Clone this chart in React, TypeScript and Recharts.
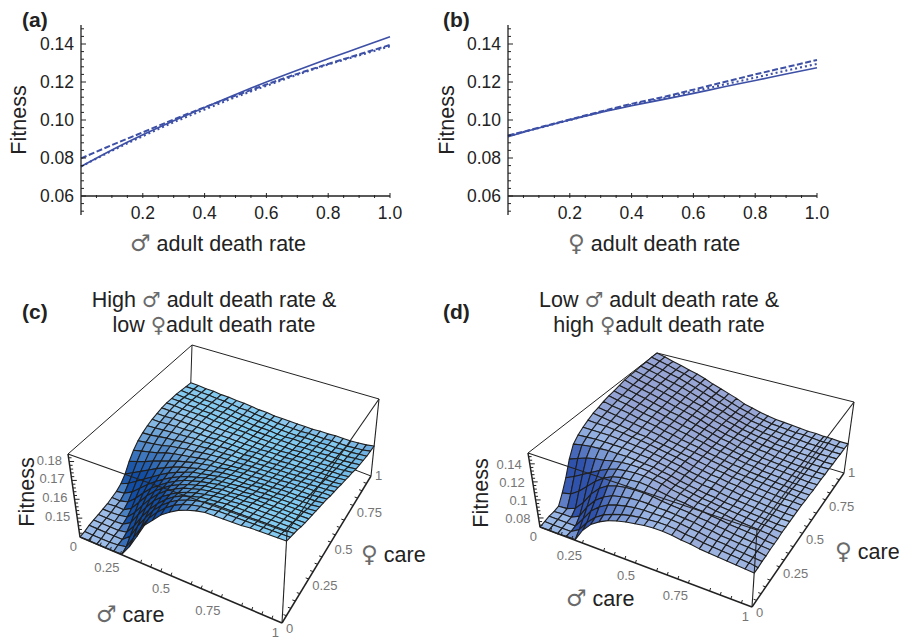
import { LineChart, Line, XAxis, YAxis, ReferenceLine, ScatterChart, Scatter } from "recharts";

// panels (a) and (b): fitness against adult death rate
const deathRate = [0, 0.1, 0.2, 0.3, 0.4, 0.5, 0.6, 0.7, 0.8, 0.9, 1];
const maleSolid = [0.0755, 0.0842, 0.0922, 0.0996, 0.1066, 0.1134, 0.12, 0.1262, 0.1322, 0.138, 0.1438];
const maleDashed = [0.0798, 0.0868, 0.0935, 0.1003, 0.1067, 0.1128, 0.1187, 0.1243, 0.1295, 0.1345, 0.1395];
const maleDotted = [0.0755, 0.0838, 0.0915, 0.0988, 0.1055, 0.112, 0.118, 0.1238, 0.1292, 0.134, 0.1388];
const femaleSolid = [0.0912, 0.0958, 0.1, 0.104, 0.1075, 0.1107, 0.114, 0.1175, 0.1208, 0.1242, 0.1275];
const femaleDashed = [0.0918, 0.096, 0.1003, 0.1045, 0.1085, 0.112, 0.116, 0.12, 0.124, 0.1278, 0.1316];
const femaleDotted = [0.0915, 0.0958, 0.1, 0.1042, 0.108, 0.1113, 0.115, 0.1187, 0.1223, 0.126, 0.1295];

const xTicks = [0.05, 0.1, 0.15, 0.2, 0.25, 0.3, 0.35, 0.4, 0.45, 0.5, 0.55, 0.6, 0.65, 0.7, 0.75, 0.8, 0.85, 0.9, 0.95, 1];
const xLabelled = [0.2, 0.4, 0.6, 0.8, 1];
const yTicks = [
  0.052, 0.056, 0.06, 0.064, 0.068, 0.072, 0.076, 0.08, 0.084, 0.088, 0.092, 0.096, 0.1, 0.104, 0.108, 0.112,
  0.116, 0.12, 0.124, 0.128, 0.132, 0.136, 0.14, 0.144, 0.148,
];
const yLabelled = [0.06, 0.08, 0.1, 0.12, 0.14];

// panels (c) and (d): surface height in % of the fitness box, rows go with female care, columns with male care
const surfaceC = [
  [0, 0, 0, 0, 0, 1, 14, 30, 47, 57, 67, 74, 80, 84, 87, 89, 89, 89, 89, 89, 90, 90, 90, 90, 90],
  [0, 0, 0, 0, 1, 3, 18, 34, 49, 60, 69, 76, 81, 84, 86, 87, 88, 88, 88, 88, 88, 88, 88, 88, 88],
  [1, 1, 1, 1, 1, 9, 25, 39, 52, 62, 70, 76, 80, 83, 85, 86, 86, 86, 86, 86, 86, 86, 86, 86, 86],
  [1, 1, 1, 1, 3, 15, 30, 43, 54, 63, 70, 75, 78, 81, 82, 83, 84, 84, 84, 84, 84, 84, 84, 84, 84],
  [1, 1, 1, 2, 8, 22, 35, 47, 56, 63, 69, 73, 76, 78, 80, 81, 81, 82, 82, 82, 82, 82, 82, 82, 81],
  [1, 1, 2, 4, 14, 27, 39, 49, 57, 63, 68, 71, 74, 76, 77, 78, 79, 79, 80, 80, 80, 80, 80, 79, 79],
  [1, 2, 2, 8, 20, 32, 42, 50, 57, 62, 66, 69, 72, 73, 75, 75, 76, 77, 77, 77, 77, 77, 77, 77, 77],
  [2, 2, 5, 14, 25, 35, 43, 50, 56, 61, 64, 67, 69, 71, 72, 73, 73, 74, 74, 75, 75, 75, 75, 75, 75],
  [3, 5, 11, 20, 29, 37, 44, 50, 55, 59, 62, 65, 67, 68, 69, 70, 71, 71, 72, 72, 72, 72, 72, 72, 73],
  [6, 11, 18, 25, 32, 39, 45, 50, 54, 58, 60, 62, 64, 66, 67, 67, 68, 69, 69, 69, 70, 70, 70, 70, 71],
  [12, 18, 24, 30, 36, 41, 46, 50, 53, 56, 58, 60, 62, 63, 64, 65, 65, 66, 66, 67, 67, 67, 68, 68, 69],
  [22, 26, 30, 35, 39, 43, 47, 50, 53, 55, 57, 58, 60, 61, 62, 62, 63, 63, 64, 64, 65, 65, 65, 66, 67],
  [30, 33, 36, 39, 43, 46, 48, 50, 52, 54, 55, 56, 57, 58, 59, 60, 60, 61, 61, 62, 62, 63, 63, 64, 64],
  [36, 38, 40, 42, 45, 47, 49, 50, 52, 53, 54, 55, 55, 56, 57, 57, 58, 58, 59, 59, 60, 60, 61, 61, 62],
  [40, 41, 43, 45, 46, 48, 49, 50, 51, 52, 52, 53, 53, 54, 54, 55, 55, 56, 56, 57, 57, 58, 58, 59, 60],
  [43, 44, 45, 46, 47, 48, 49, 49, 50, 50, 51, 51, 51, 52, 52, 52, 53, 53, 54, 54, 55, 55, 56, 56, 57],
  [45, 45, 46, 47, 47, 48, 48, 48, 49, 49, 49, 49, 49, 50, 50, 50, 50, 51, 51, 52, 52, 53, 53, 54, 55],
  [46, 46, 47, 47, 47, 47, 47, 47, 47, 47, 47, 47, 47, 47, 48, 48, 48, 49, 49, 49, 50, 50, 51, 51, 52],
  [47, 47, 47, 47, 47, 47, 46, 46, 46, 46, 46, 45, 45, 45, 45, 45, 46, 46, 47, 47, 47, 48, 48, 49, 50],
  [47, 47, 46, 46, 46, 46, 45, 45, 44, 44, 44, 43, 43, 43, 43, 43, 43, 44, 44, 45, 45, 45, 46, 46, 47],
  [46, 46, 45, 45, 44, 44, 43, 43, 42, 42, 41, 41, 41, 41, 41, 41, 41, 42, 42, 42, 43, 43, 43, 44, 45],
  [45, 44, 44, 43, 43, 42, 42, 41, 40, 40, 39, 39, 39, 38, 38, 39, 39, 39, 40, 40, 40, 41, 41, 42, 43],
  [43, 42, 42, 41, 41, 40, 40, 39, 38, 38, 37, 37, 36, 36, 36, 36, 37, 37, 37, 38, 38, 39, 39, 40, 41],
  [41, 41, 40, 40, 39, 39, 38, 37, 37, 36, 35, 35, 34, 34, 34, 34, 35, 35, 35, 36, 36, 36, 37, 38, 40],
  [39, 39, 38, 38, 37, 37, 36, 36, 35, 34, 34, 33, 33, 33, 33, 33, 33, 34, 34, 35, 35, 35, 36, 37, 39],
];
const surfaceD = [
  [0, 0, 0, 1, 1, 18, 30, 38, 44, 48, 51, 53, 55, 56, 56, 55, 53, 52, 50, 49, 48, 47, 46, 45, 44],
  [1, 1, 1, 1, 8, 22, 33, 41, 46, 50, 53, 55, 56, 57, 57, 56, 54, 53, 51, 50, 49, 48, 47, 46, 44],
  [2, 2, 2, 2, 16, 31, 41, 48, 52, 55, 57, 58, 58, 58, 58, 57, 55, 54, 52, 51, 50, 48, 47, 46, 45],
  [2, 3, 3, 9, 26, 39, 48, 54, 57, 59, 60, 60, 59, 59, 58, 57, 56, 54, 53, 51, 50, 49, 48, 47, 45],
  [3, 4, 9, 21, 37, 49, 57, 61, 63, 64, 64, 63, 61, 60, 59, 58, 56, 55, 53, 52, 50, 49, 48, 47, 46],
  [15, 18, 26, 37, 48, 57, 63, 66, 67, 68, 67, 65, 63, 61, 60, 58, 57, 55, 54, 52, 51, 50, 49, 47, 46],
  [30, 36, 43, 50, 57, 63, 67, 69, 70, 70, 69, 67, 64, 62, 60, 58, 57, 55, 54, 52, 51, 50, 49, 48, 46],
  [50, 55, 60, 63, 65, 68, 70, 71, 71, 70, 68, 66, 63, 61, 59, 57, 56, 54, 53, 52, 51, 50, 49, 48, 47],
  [65, 68, 70, 71, 72, 72, 72, 71, 70, 69, 67, 65, 62, 60, 58, 56, 55, 53, 52, 51, 50, 49, 48, 47, 47],
  [72, 73, 74, 74, 74, 74, 73, 72, 71, 69, 67, 65, 63, 60, 58, 57, 55, 53, 52, 51, 50, 49, 48, 47, 47],
  [77, 77, 77, 77, 76, 75, 74, 73, 71, 69, 67, 65, 62, 60, 58, 57, 55, 54, 52, 51, 50, 49, 48, 47, 47],
  [81, 80, 80, 79, 78, 76, 75, 73, 71, 69, 67, 65, 62, 60, 58, 57, 55, 54, 52, 51, 50, 49, 48, 48, 47],
  [85, 83, 81, 79, 77, 75, 74, 72, 70, 68, 66, 64, 62, 60, 58, 57, 55, 54, 52, 51, 50, 49, 48, 48, 47],
  [87, 85, 83, 81, 79, 77, 75, 73, 70, 68, 66, 64, 62, 60, 58, 56, 54, 53, 52, 51, 50, 49, 48, 47, 46],
  [90, 87, 85, 83, 80, 78, 76, 73, 71, 68, 66, 64, 61, 59, 57, 55, 54, 52, 51, 50, 49, 48, 47, 46, 46],
  [92, 89, 87, 84, 81, 79, 76, 74, 71, 69, 66, 64, 61, 59, 57, 55, 53, 52, 50, 49, 48, 47, 46, 46, 45],
  [93, 90, 88, 85, 82, 80, 77, 74, 71, 69, 66, 63, 60, 58, 56, 54, 52, 51, 50, 49, 48, 47, 46, 45, 45],
  [95, 92, 89, 86, 83, 80, 77, 75, 72, 69, 66, 63, 60, 58, 55, 53, 52, 50, 49, 48, 47, 46, 45, 45, 45],
  [97, 93, 90, 87, 84, 81, 78, 75, 72, 69, 65, 62, 59, 57, 55, 53, 51, 50, 48, 47, 46, 45, 45, 44, 44],
  [98, 94, 91, 88, 85, 82, 78, 75, 72, 68, 65, 62, 59, 56, 54, 52, 50, 49, 48, 47, 46, 45, 44, 44, 44],
  [98, 95, 92, 89, 85, 82, 79, 75, 72, 68, 65, 61, 58, 55, 53, 51, 50, 48, 47, 46, 45, 45, 44, 43, 43],
  [99, 96, 93, 89, 86, 83, 79, 75, 71, 67, 64, 60, 57, 54, 52, 50, 49, 47, 46, 45, 45, 44, 43, 43, 43],
  [99, 96, 93, 90, 87, 83, 79, 75, 71, 67, 63, 59, 56, 53, 51, 49, 48, 47, 46, 45, 44, 44, 43, 42, 42],
  [100, 97, 94, 90, 87, 83, 79, 75, 70, 66, 62, 58, 55, 52, 50, 48, 47, 46, 45, 45, 44, 43, 43, 42, 42],
  [100, 97, 93, 90, 86, 83, 79, 74, 70, 66, 62, 57, 54, 51, 49, 47, 46, 45, 44, 43, 43, 42, 42, 41, 41],
];

const careMinorTicks = [0.05, 0.1, 0.15, 0.2, 0.3, 0.35, 0.4, 0.45, 0.55, 0.6, 0.65, 0.7, 0.8, 0.85, 0.9, 0.95];
const careLabels = ["0", "0.25", "0.5", "0.75", "1"];
const fitnessTicksC = [0.142, 0.144, 0.146, 0.148, 0.15, 0.152, 0.154, 0.156, 0.158, 0.16, 0.162, 0.164, 0.166, 0.168, 0.17, 0.172, 0.174, 0.176, 0.178, 0.18, 0.182];
const fitnessLabelsC = ["0.15", "0.16", "0.17", "0.18"];
const fitnessTicksD = [0.072, 0.076, 0.08, 0.084, 0.088, 0.092, 0.096, 0.1, 0.104, 0.108, 0.112, 0.116, 0.12, 0.124, 0.128, 0.132, 0.136, 0.14, 0.144, 0.148];
const fitnessLabelsD = ["0.08", "0.1", "0.12", "0.14"];

const SANS = "'Liberation Sans', Arial, sans-serif";
const SYMBOL = "'DejaVu Sans', sans-serif";
const INK = "#222222";
const BLUE = "#3d50a6";
const GREY = "#757575";

type Pt = [number, number];
// page pixels of the box corners: (male care, female care) = 00, 10, 11, 01
const frameC = {
  base: [[80, 537], [282, 623], [371, 476], [190, 407]] as Pt[],
  top: [[68, 454], [287, 532], [379, 399], [192, 345]] as Pt[],
  zRange: [0.14, 0.184],
};
const frameD = {
  base: [[540, 527], [752, 607], [844, 473], [653, 415]] as Pt[],
  top: [[528, 453], [757, 530], [854, 402], [657, 353]] as Pt[],
  zRange: [0.07, 0.152],
};
const paletteC = { flat: "#92c4ea", front: "#7ccdf5", steep: "#124ea5", low: "#9dbde8", q: 0.33, r: 0, steepOver: 8 };
const paletteD = { flat: "#98a6d5", front: "#a6c0ea", steep: "#2f52ad", low: "#9dbbe8", q: 0, r: 0.33, steepOver: 12 };

type Frame = typeof frameC;
type Palette = typeof paletteC;

const clamp = (v: number) => Math.max(0, Math.min(1, v));
const mix = (a: string, b: string, k: number) => {
  const ch = (c: string, i: number) => parseInt(c.slice(1 + i * 2, 3 + i * 2), 16);
  const out = [0, 1, 2].map((i) => Math.round(ch(a, i) + (ch(b, i) - ch(a, i)) * k));
  return "#" + out.map((n) => n.toString(16).padStart(2, "0")).join("");
};

const project = (fr: Frame, m: number, f: number, pct: number): Pt => {
  const bi = (c: Pt[], k: 0 | 1) =>
    c[0][k] * (1 - m) * (1 - f) + c[1][k] * m * (1 - f) + c[2][k] * m * f + c[3][k] * (1 - m) * f;
  const t = pct / 100;
  return [bi(fr.base, 0) + (bi(fr.top, 0) - bi(fr.base, 0)) * t, bi(fr.base, 1) + (bi(fr.top, 1) - bi(fr.base, 1)) * t];
};

const buildCells = (rows: number[][], fr: Frame, pal: Palette) => {
  const n = rows.length - 1;
  const cells = [];
  for (let j = 0; j < n; j++) {
    for (let i = 0; i < n; i++) {
      const corners: Pt[] = [
        project(fr, i / n, j / n, rows[j][i]),
        project(fr, (i + 1) / n, j / n, rows[j][i + 1]),
        project(fr, (i + 1) / n, (j + 1) / n, rows[j + 1][i + 1]),
        project(fr, i / n, (j + 1) / n, rows[j + 1][i]),
      ];
      const r = (rows[j][i + 1] + rows[j + 1][i + 1] - rows[j][i] - rows[j + 1][i]) / 2;
      const q = (rows[j + 1][i] + rows[j + 1][i + 1] - rows[j][i] - rows[j][i + 1]) / 2;
      const lit = clamp(pal.q * -q + pal.r * (r + 3));
      const avg = (rows[j][i] + rows[j][i + 1] + rows[j + 1][i] + rows[j + 1][i + 1]) / 4;
      const light = avg < 4 ? pal.low : mix(pal.flat, pal.front, lit);
      const steep = clamp(Math.max(0, r) / pal.steepOver + Math.max(0, q) / 30);
      cells.push({
        x: corners.reduce((s, c) => s + c[0], 0) / 4,
        y: corners.reduce((s, c) => s + c[1], 0) / 4,
        corners,
        fill: mix(light, pal.steep, steep),
        depth: j - i,
      });
    }
  }
  return cells.sort((a, b) => b.depth - a.depth);
};

const CellShape = (props: any) => {
  const { cx, cy, payload } = props;
  const pts = payload.corners.map((c: Pt) => `${cx + c[0] - payload.x},${cy + c[1] - payload.y}`).join(" ");
  return <polygon points={pts} fill={payload.fill} stroke="#1f1f1f" strokeWidth={1.1} strokeLinejoin="round" />;
};
const NoDot = () => <g />;
const TickMark = (props: any) => {
  const { cx, cy, payload } = props;
  return <line x1={cx} y1={cy} x2={cx + payload.dx} y2={cy + payload.dy} stroke={INK} strokeWidth={1} />;
};
const TickText = (props: any) => {
  const { cx, cy, payload } = props;
  return (
    <text x={cx + payload.dx} y={cy + payload.dy} textAnchor={payload.anchor} fontSize={13} fontFamily={SANS} fill={GREY}>
      {payload.label}
    </text>
  );
};

const edge = (a: Pt, b: Pt) => [
  { x: a[0], y: a[1] },
  { x: b[0], y: b[1] },
];

const surfaceSeries = (key: string, rows: number[][], fr: Frame, pal: Palette, zTicks: number[], zLabels: string[], zd: Pt) => {
  const { base, top } = fr;
  const back = [
    edge(base[0], base[3]),
    edge(base[3], base[2]),
    edge(top[0], top[3]),
    edge(top[3], top[2]),
    edge(base[3], top[3]),
  ];
  const front = [
    edge(top[0], top[1]),
    edge(top[1], top[2]),
    edge(base[1], top[1]),
    edge(base[2], top[2]),
  ];
  const bold = [edge(base[0], base[1]), edge(base[1], base[2]), edge(base[0], top[0])];
  const zT = (z: number) => ((z - fr.zRange[0]) / (fr.zRange[1] - fr.zRange[0])) * 100;
  const line = (stroke: string, strokeWidth: number) => ({ stroke, strokeWidth });

  const zMarks = zTicks.map((z) => {
    const p = project(fr, 0, 0, zT(z));
    return { x: p[0], y: p[1], dx: zLabels.includes(String(z)) ? 5 : 3, dy: 0 };
  });
  const mMarks = careMinorTicks.map((v) => {
    const p = project(fr, v, 0, 0);
    return { x: p[0], y: p[1], dx: 1, dy: -3 };
  });
  const fMarks = careMinorTicks.map((v) => {
    const p = project(fr, 1, v, 0);
    return { x: p[0], y: p[1], dx: -3, dy: -1 };
  });
  const careVals = careLabels.map(Number);
  const mText = careLabels.map((label, i) => {
    const p = project(fr, careVals[i], 0, 0);
    return { x: p[0], y: p[1], label, anchor: "end", dx: label.length > 1 ? -11 : -3, dy: label.length > 1 ? 13 : 14 };
  });
  const fText = careLabels.map((label, i) => {
    const p = project(fr, 1, careVals[i], 0);
    return { x: p[0], y: p[1], label, anchor: "start", dx: label.length > 1 ? 8 : 4, dy: i === 0 ? 10 : 4 };
  });
  const zText = zLabels.map((label) => {
    const p = project(fr, 0, 0, zT(Number(label)));
    return { x: p[0], y: p[1], label, anchor: "end", dx: zd[0], dy: zd[1] };
  });

  return [
    ...back.map((d, i) => (
      <Scatter key={`${key}-back-${i}`} data={d} shape={NoDot} line={line(INK, 1)} isAnimationActive={false} />
    )),
    <Scatter key={`${key}-cells`} data={buildCells(rows, fr, pal)} shape={CellShape} isAnimationActive={false} />,
    ...front.map((d, i) => (
      <Scatter key={`${key}-front-${i}`} data={d} shape={NoDot} line={line(INK, 1.1)} isAnimationActive={false} />
    )),
    ...bold.map((d, i) => (
      <Scatter key={`${key}-bold-${i}`} data={d} shape={NoDot} line={line(INK, 1.5)} isAnimationActive={false} />
    )),
    <Scatter key={`${key}-zm`} data={zMarks} shape={TickMark} isAnimationActive={false} />,
    <Scatter key={`${key}-mm`} data={mMarks} shape={TickMark} isAnimationActive={false} />,
    <Scatter key={`${key}-fm`} data={fMarks} shape={TickMark} isAnimationActive={false} />,
    <Scatter key={`${key}-mt`} data={mText} shape={TickText} isAnimationActive={false} />,
    <Scatter key={`${key}-ft`} data={fText} shape={TickText} isAnimationActive={false} />,
    <Scatter key={`${key}-zt`} data={zText} shape={TickText} isAnimationActive={false} />,
  ];
};

const XTick = (props: any) => {
  const { x, y, payload } = props;
  const major = xLabelled.includes(payload.value);
  const axisY = y - 19;
  return (
    <g>
      <line x1={x} x2={x} y1={axisY} y2={axisY - (major ? 5 : 3)} stroke={INK} strokeWidth={1} />
      {major && (
        <text x={x} y={axisY + 21} textAnchor="middle" fontSize={17.5} fontFamily={SANS} fill={INK}>
          {payload.value.toFixed(1)}
        </text>
      )}
    </g>
  );
};
const YTick = (props: any) => {
  const { x, y, payload } = props;
  const major = yLabelled.includes(payload.value);
  return (
    <g>
      <line x1={x} x2={x + (major ? 5 : 3)} y1={y} y2={y} stroke={INK} strokeWidth={1} />
      {major && (
        <text x={x - 7} y={y + 6} textAnchor="end" fontSize={17.5} fontFamily={SANS} fill={INK}>
          {payload.value.toFixed(2)}
        </text>
      )}
    </g>
  );
};

const DeathRatePanel = ({ left, solid, dashed, dotted }: { left: number; solid: number[]; dashed: number[]; dotted: number[] }) => {
  const rows = deathRate.map((x, i) => ({ x, solid: solid[i], dashed: dashed[i], dotted: dotted[i] }));
  return (
    <div style={{ position: "absolute", left, top: 0 }}>
      <LineChart width={430} height={250} data={rows} margin={{ top: 25, right: 40, bottom: 0, left: 0 }}>
        <XAxis
          dataKey="x"
          type="number"
          domain={[0, 1]}
          ticks={xTicks}
          interval={0}
          height={35}
          axisLine={false}
          tickLine={false}
          tickSize={0}
          tick={XTick}
        />
        <YAxis
          type="number"
          domain={[0.05, 0.15]}
          ticks={yTicks}
          interval={0}
          width={81}
          axisLine={{ stroke: INK, strokeWidth: 1.3 }}
          tickLine={false}
          tickSize={0}
          tickMargin={0}
          tick={YTick}
        />
        <ReferenceLine y={0.06} stroke={INK} strokeWidth={1.3} />
        <Line dataKey="dotted" type="monotone" stroke={BLUE} strokeWidth={2.1} strokeDasharray="2 3" dot={false} isAnimationActive={false} />
        <Line dataKey="dashed" type="monotone" stroke={BLUE} strokeWidth={2} strokeDasharray="6 2.5" dot={false} isAnimationActive={false} />
        <Line dataKey="solid" type="monotone" stroke={BLUE} strokeWidth={1.7} dot={false} isAnimationActive={false} />
      </LineChart>
    </div>
  );
};

const Caption = ({ x, y, symbol, text }: any) => (
  <text x={x} y={y} fontSize={21.5} fontFamily={SANS} fill={INK}>
    <tspan fontFamily={SYMBOL} fontSize={23} fill="#6a6a6a">
      {symbol}
    </tspan>
    {" " + text}
  </text>
);

const TitleLine = ({ x, y, lead, symbol, text, size = 21.5 }: any) => (
  <text x={x} y={y} textAnchor="middle" fontSize={size} fontFamily={SANS} fill={INK}>
    {lead}
    <tspan fontFamily={SYMBOL} fontSize={21} fill="#6a6a6a">
      {symbol}
    </tspan>
    {text}
  </text>
);

const PanelTag = ({ x, y, children }: any) => (
  <text x={x} y={y} fontSize={21} fontWeight="bold" fontFamily={SANS} fill={INK}>
    {children}
  </text>
);

const VerticalLabel = ({ x, y }: { x: number; y: number }) => (
  <text transform={`translate(${x} ${y}) rotate(-90)`} textAnchor="middle" fontSize={21.5} fontFamily={SANS} fill={INK}>
    Fitness
  </text>
);

export default function App() {
  return (
    <div style={{ position: "absolute", left: 0, top: 0, width: 899, height: 640, background: "#fff", overflow: "hidden" }}>
      <DeathRatePanel left={0} solid={maleSolid} dashed={maleDashed} dotted={maleDotted} />
      <DeathRatePanel left={427} solid={femaleSolid} dashed={femaleDashed} dotted={femaleDotted} />
      <div style={{ position: "absolute", left: 0, top: 0 }}>
        <ScatterChart width={899} height={640} margin={{ top: 0, right: 0, bottom: 0, left: 0 }}>
          <XAxis dataKey="x" type="number" domain={[0, 899]} hide />
          <YAxis dataKey="y" type="number" domain={[0, 640]} reversed hide />
          {surfaceSeries("c", surfaceC, frameC, paletteC, fitnessTicksC, fitnessLabelsC, [-7, 3])}
          {surfaceSeries("d", surfaceD, frameD, paletteD, fitnessTicksD, fitnessLabelsD, [-8, 5])}
        </ScatterChart>
      </div>
      <svg width={899} height={640} style={{ position: "absolute", left: 0, top: 0, pointerEvents: "none" }}>
        <PanelTag x={22} y={27}>(a)</PanelTag>
        <PanelTag x={443} y={27}>(b)</PanelTag>
        <PanelTag x={22} y={319}>(c)</PanelTag>
        <PanelTag x={443} y={319}>(d)</PanelTag>
        <VerticalLabel x={26} y={120} />
        <VerticalLabel x={454} y={120} />
        <VerticalLabel x={34} y={492} />
        <VerticalLabel x={488} y={493} />
        <Caption x={130} y={251} symbol="♂" text="adult death rate" />
        <Caption x={568} y={251} symbol="♀" text="adult death rate" />
        <TitleLine x={214} y={307} lead="High " symbol="♂" text=" adult death rate &" />
        <TitleLine x={214} y={332} lead="low " symbol="♀" text="adult death rate" />
        <TitleLine x={659} y={307} lead="Low " symbol="♂" text=" adult death rate &" />
        <TitleLine x={659} y={332} lead="high " symbol="♀" text="adult death rate" />
        <Caption x={96} y={622} symbol="♂" text="care" />
        <Caption x={361} y={562} symbol="♀" text="care" />
        <Caption x={566} y={606} symbol="♂" text="care" />
        <Caption x={835} y={559} symbol="♀" text="care" />
      </svg>
    </div>
  );
}
